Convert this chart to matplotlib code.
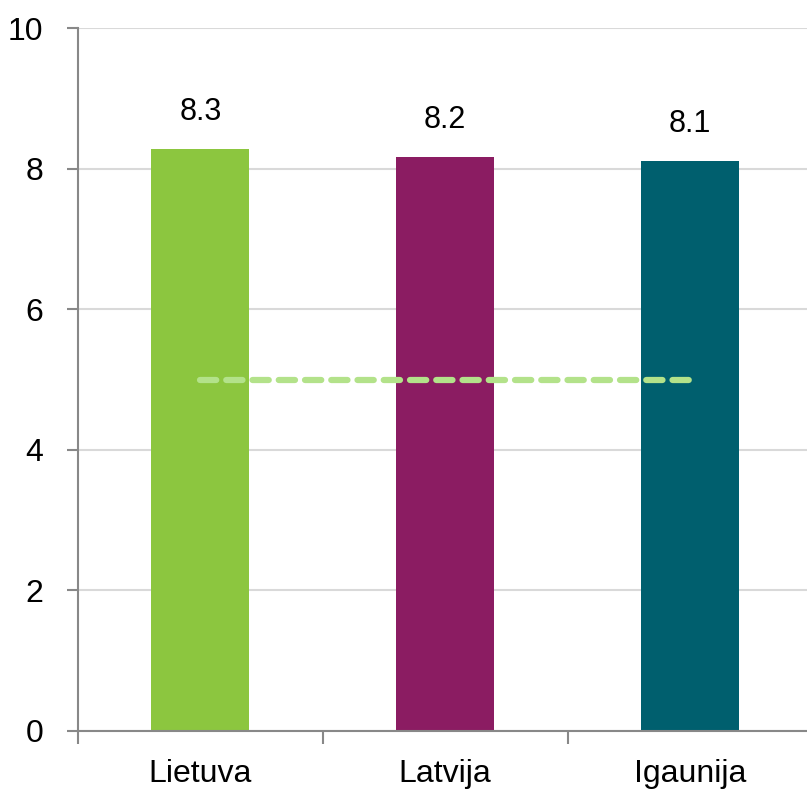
import matplotlib.pyplot as plt

# data
countries = ["Lietuva", "Latvija", "Igaunija"]
values = [8.28, 8.16, 8.11]
labels = ["8.3", "8.2", "8.1"]
colors = ["#8cc63f", "#8b1c62", "#005f6e"]
ref_level = [5.0, 5.0, 5.0]
y_ticks = [0, 2, 4, 6, 8, 10]

fig = plt.figure(figsize=(8.07, 7.91), dpi=100)
ax = fig.add_axes([78 / 807, 60 / 791, 1 - 78 / 807, 703 / 791])

x = list(range(len(countries)))
ax.bar(x, values, width=0.4, color=colors, zorder=3)
ax.plot(x, ref_level, color="#b3e28a", lw=4.5, ls=(0, (2.6, 1.6)),
        dash_capstyle="round", zorder=4)

for xi, v, lab in zip(x, values, labels):
    ax.annotate(lab, (xi, v), xytext=(0, 16), textcoords="offset points",
                ha="center", va="bottom", fontsize=22,
                family=["Liberation Sans", "DejaVu Sans"])

ax.set_xlim(-0.5, 2.478)
ax.set_ylim(0, 10)
ax.set_yticks(y_ticks)
ax.set_yticklabels([str(t) for t in y_ticks],
                   family=["Liberation Sans", "DejaVu Sans"], fontsize=23)
ax.set_xticks([-0.5, 0.5, 1.5])
ax.set_xticklabels([])
ax.set_xticks(x, minor=True)
ax.set_xticklabels(countries, minor=True, fontsize=23,
                   family=["Liberation Sans", "DejaVu Sans"])
ax.tick_params(axis="x", which="minor", length=0, pad=20)
ax.tick_params(axis="x", which="major", length=9, width=1.5, color="#888888")
ax.tick_params(axis="y", length=8, width=1.5, color="#888888", pad=17)

ax.grid(axis="y", color="#d9d9d9", lw=1.5, zorder=0)
for side in ["top", "right"]:
    ax.spines[side].set_visible(False)
for side in ["left", "bottom"]:
    ax.spines[side].set_color("#888888")
    ax.spines[side].set_linewidth(1.5)
ax.spines["bottom"].set_zorder(5)

fig.savefig("out.png", dpi=100)
